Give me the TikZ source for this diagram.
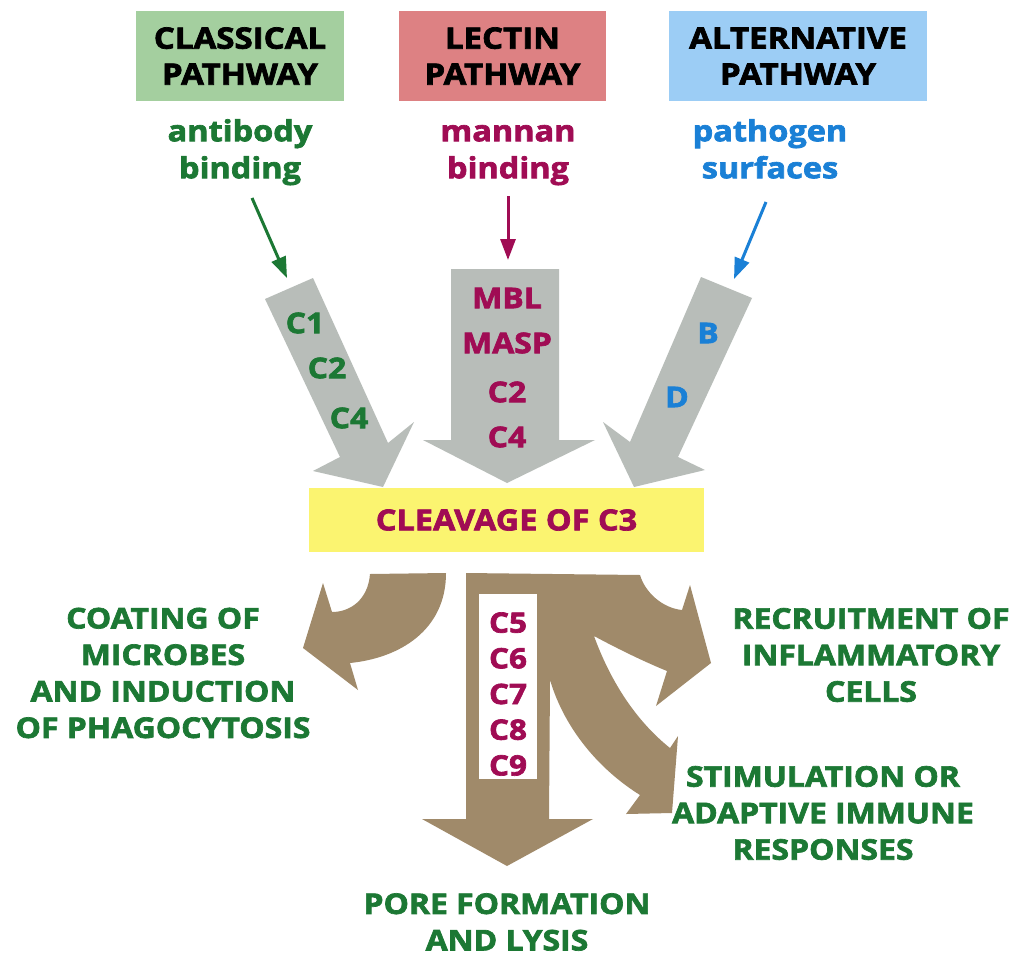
\documentclass[tikz,border=0pt]{standalone}
\usepackage{fontspec}
\setmainfont{Open Sans}[FakeStretch=1.12, BoldFeatures={FakeBold=2.4}]
\usetikzlibrary{arrows.meta}
\definecolor{classg}{RGB}{164,207,159}
\definecolor{lectr}{RGB}{221,129,131}
\definecolor{altb}{RGB}{156,205,245}
\definecolor{tgreen}{RGB}{28,120,52}
\definecolor{tmaroon}{RGB}{160,12,84}
\definecolor{tblue}{RGB}{26,128,214}
\definecolor{greyarrow}{RGB}{184,189,185}
\definecolor{yellowbox}{RGB}{251,244,112}
\definecolor{brownarrow}{RGB}{160,138,106}
\begin{document}
\begin{tikzpicture}[x=1pt,y=-1pt,
  pbox/.style={minimum width=208pt, minimum height=90pt, inner sep=0pt, align=center,
    font=\bfseries\fontsize{29.5}{36}\selectfont},
  sublbl/.style={inner sep=0pt, align=center, font=\bfseries\fontsize{29}{37}\selectfont},
  outlbl/.style={inner sep=0pt, align=center, text=tgreen, font=\bfseries\fontsize{28.5}{36.5}\selectfont},
  albl/.style={inner sep=0pt, font=\bfseries\fontsize{28.5}{35}\selectfont},
  thinarrow/.style={line width=3pt, -{Triangle[length=21pt,width=15pt]}}
]
\useasboundingbox (0,0) rectangle (1024,971);
\fill[white] (0,0) rectangle (1024,971);

% pathway boxes
\node[pbox, fill=classg] (cls) at (240,56) {CLASSICAL\\PATHWAY};
\node[pbox, fill=lectr, minimum width=207pt] (lec) at (502.5,56) {LECTIN\\PATHWAY};
\node[pbox, fill=altb, minimum width=258pt] (alt) at (798,56) {ALTERNATIVE\\PATHWAY};

% triggers
\node[sublbl, text=tgreen, anchor=north] (ab) at (240,119) {antibody\\binding};
\node[sublbl, text=tmaroon, anchor=north] (mb) at (508,119) {\vphantom{b}mannan\\binding};
\node[sublbl, text=tblue, anchor=north] (ps) at (770,119) {pathogen\\surfaces};

% thin arrows
\coordinate (g1s) at (252,198); \coordinate (g1e) at (287,278);
\coordinate (m1s) at (508,196); \coordinate (m1e) at (508,260);
\coordinate (b1s) at (766,202); \coordinate (b1e) at (734,279);
\draw[thinarrow, tgreen] (g1s) -- (g1e);
\draw[thinarrow, tmaroon] (m1s) -- (m1e);
\draw[thinarrow, tblue] (b1s) -- (b1e);

% grey arrows
\fill[greyarrow] (265,299) -- (313,278) -- (388,443) -- (414,422) -- (383,487) -- (313,471) -- (340,457) -- cycle;
\fill[greyarrow] (451,269) -- (559,269) -- (559,440) -- (595,440) -- (507,483) -- (423,440) -- (451,440) -- cycle;
\fill[greyarrow] (701,277) -- (752,298) -- (678,457) -- (705,470) -- (634,487) -- (603,422) -- (630,442) -- cycle;

\node[albl, text=tgreen] (c1) at (305,323) {C1};
\node[albl, text=tgreen] (c2) at (327,368) {C2};
\node[albl, text=tgreen] (c4) at (349,418) {C4};
\node[albl, text=tmaroon] (mbl) at (507,298) {MBL};
\node[albl, text=tmaroon] (masp) at (507,343) {MASP};
\node[albl, text=tmaroon] (lc2) at (507,392) {C2};
\node[albl, text=tmaroon] (lc4) at (507,437) {C4};
\node[albl, text=tblue] (fb) at (708,333) {B};
\node[albl, text=tblue] (fd) at (677,397) {D};

% cleavage box
\node[fill=yellowbox, minimum width=395pt, minimum height=64pt, inner sep=0pt, text=tmaroon,
  font=\bfseries\fontsize{29}{35}\selectfont] (c3) at (506.5,520) {CLEAVAGE OF C3};

% brown arrows
\fill[brownarrow] (370,574) -- (446,573) .. controls (446,630) and (400,658) .. (350,663)
  -- (358,690) -- (303,648) -- (323,583) -- (332,612)
  .. controls (350,612) and (368,600) .. (370,574) -- cycle;
\fill[brownarrow] (466,573) -- (640,575) .. controls (645,592) and (662,608) .. (682,610)
  -- (690,585) -- (711,663) -- (656,706) -- (667,671)
  .. controls (645,662) and (620,650) .. (594,636)
  .. controls (610,680) and (635,720) .. (670,748)
  -- (678,736) -- (672,813) -- (626,814) -- (640,795)
  .. controls (600,770) and (565,730) .. (550,680)
  -- (549,819) -- (593,819) -- (507,866) -- (422,819) -- (466,819) -- cycle;

\node[fill=white, minimum width=58pt, minimum height=185pt, inner sep=0pt] (cbox) at (508,686.5) {};
\node[inner sep=0pt, align=left, text=tmaroon, font=\bfseries\fontsize{28}{35.7}\selectfont] (cs) at (508,694) {C5\\C6\\C7\\C8\\C9};

% outcomes
\node[outlbl] (coat) at (163,673) {COATING OF\\MICROBES\\AND INDUCTION\\OF PHAGOCYTOSIS};
\node[outlbl] (recr) at (871,655) {RECRUITMENT OF\\INFLAMMATORY\\CELLS};
\node[outlbl] (stim) at (823,813) {STIMULATION OR\\ADAPTIVE IMMUNE\\RESPONSES};
\node[outlbl] (pore) at (507,922) {PORE FORMATION\\AND LYSIS};
\end{tikzpicture}
\end{document}
